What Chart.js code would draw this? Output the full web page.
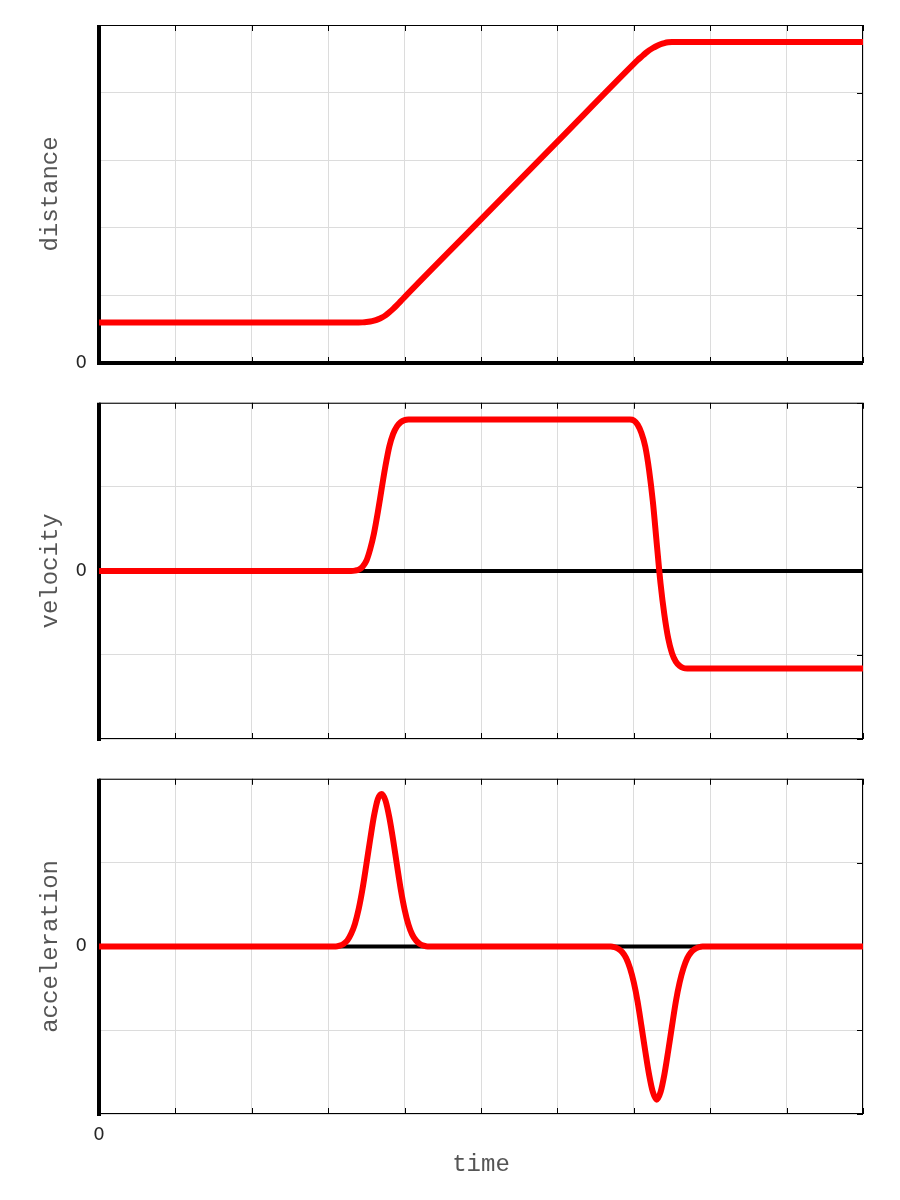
<!DOCTYPE html>
<html>
<head>
<meta charset="utf-8">
<script src="https://cdn.jsdelivr.net/npm/chart.js@4.4.1/dist/chart.umd.min.js"></script>
<style>
  body { margin: 0; background: #fff; }
  #wrap { position: relative; width: 900px; height: 1200px; }
  canvas { position: absolute; left: 0; }
</style>
</head>
<body>
<div id="wrap">
  <canvas id="cDist" width="900" height="390" style="top:0px"></canvas>
  <canvas id="cVel" width="900" height="385" style="top:380px"></canvas>
  <canvas id="cAcc" width="900" height="444" style="top:756px"></canvas>
</div>
<script>
// data (time 0..10)
const distTime = [0, 3.4, 3.45, 3.5, 3.55, 3.6, 3.65, 3.7, 3.75, 3.8, 3.85, 3.9, 3.95, 4.0, 5.0, 6.0, 7.0, 7.05, 7.1, 7.15, 7.2, 7.25, 7.3, 7.35, 7.4, 7.45, 7.5, 10];
const distValue = [0.6, 0.6, 0.601, 0.605, 0.613, 0.626, 0.645, 0.67, 0.705, 0.75, 0.8, 0.855, 0.915, 0.975, 2.125, 3.275, 4.425, 4.48, 4.53, 4.58, 4.625, 4.66, 4.69, 4.715, 4.733, 4.745, 4.75, 4.75];

const velTime = [0, 3.3, 3.35, 3.4, 3.45, 3.5, 3.55, 3.6, 3.65, 3.7, 3.75, 3.8, 3.85, 3.9, 3.95, 4.0, 4.05,
  6.95, 7.0, 7.05, 7.1, 7.15, 7.2, 7.25, 7.3, 7.35, 7.4, 7.45, 7.5, 7.55, 7.6, 7.65, 7.7, 10];
const velValue = [0, 0, 0.003, 0.015, 0.05, 0.12, 0.26, 0.45, 0.7, 0.98, 1.25, 1.48, 1.63, 1.72, 1.77, 1.795, 1.8,
  1.8, 1.79, 1.74, 1.64, 1.48, 1.2, 0.82, 0.33, -0.15, -0.52, -0.8, -0.98, -1.08, -1.13, -1.155, -1.16, -1.16];

const accTime = [0, 3.1, 3.15, 3.2, 3.25, 3.3, 3.35, 3.4, 3.45, 3.5, 3.55, 3.6, 3.65, 3.7, 3.75, 3.8, 3.85, 3.9, 3.95, 4.0, 4.05, 4.1, 4.15, 4.2, 4.25, 4.3,
  6.7, 6.75, 6.8, 6.85, 6.9, 6.95, 7.0, 7.05, 7.1, 7.15, 7.2, 7.25, 7.3, 7.35, 7.4, 7.45, 7.5, 7.55, 7.6, 7.65, 7.7, 7.75, 7.8, 7.85, 7.9, 10];
const accValue = [0, 0, 0.01, 0.03, 0.07, 0.15, 0.27, 0.45, 0.69, 0.98, 1.28, 1.56, 1.76, 1.82, 1.74, 1.54, 1.27, 0.97, 0.68, 0.44, 0.26, 0.14, 0.07, 0.03, 0.01, 0,
  0, -0.01, -0.03, -0.07, -0.14, -0.26, -0.43, -0.66, -0.95, -1.25, -1.53, -1.74, -1.83, -1.74, -1.53, -1.25, -0.95, -0.66, -0.43, -0.26, -0.14, -0.07, -0.03, -0.01, 0, 0];

const xRange = [0, 10];
const distRange = [0, 5];
const velRange = [-2, 2];
const accRange = [-2, 2];
const shownTick = 0; // only the zero tick carries a label

Chart.defaults.color = '#262626';

// box, inward ticks, thick left axis and zero line (drawn under the red curve)
const frame = {
  id: 'frame',
  beforeDatasetsDraw(chart) {
    const { ctx, chartArea: a, scales: { x, y } } = chart;
    ctx.save();
    ctx.strokeStyle = '#000';
    ctx.lineWidth = 1;
    ctx.strokeRect(a.left + 0.5, a.top + 0.5, a.right - a.left - 1, a.bottom - a.top - 1);

    ctx.beginPath();
    x.ticks.forEach(t => {
      const px = Math.round(x.getPixelForValue(t.value)) + 0.5;
      ctx.moveTo(px, a.top); ctx.lineTo(px, a.top + 6);
      ctx.moveTo(px, a.bottom); ctx.lineTo(px, a.bottom - 6);
    });
    y.ticks.forEach(t => {
      const py = Math.round(y.getPixelForValue(t.value)) + 0.5;
      ctx.moveTo(a.right, py); ctx.lineTo(a.right - 6, py);
    });
    ctx.stroke();

    ctx.lineWidth = 4;
    ctx.beginPath();
    const y0 = y.getPixelForValue(0);
    ctx.moveTo(a.left, y0); ctx.lineTo(a.right, y0);
    const x0 = x.getPixelForValue(0);
    ctx.moveTo(x0, a.top); ctx.lineTo(x0, a.bottom + 2);
    ctx.stroke();
    ctx.restore();
  }
};

function makeChart(id, times, values, yRange, yTitle, xHeight, topPad, showX) {
  const points = times.map((t, i) => ({ x: t, y: values[i] }));
  return new Chart(document.getElementById(id), {
    type: 'line',
    data: {
      datasets: [{
        data: points,
        borderColor: '#ff0000',
        borderWidth: 6,
        pointRadius: 0,
        cubicInterpolationMode: 'monotone',
        fill: false
      }]
    },
    options: {
      responsive: false,
      animation: false,
      layout: { padding: { top: topPad, right: 37, left: 0, bottom: 0 } },
      plugins: { legend: { display: false }, tooltip: { enabled: false } },
      scales: {
        x: {
          type: 'linear',
          min: xRange[0], max: xRange[1],
          grid: { color: '#dcdcdc', drawTicks: false },
          border: { display: false },
          ticks: {
            stepSize: 1,
            padding: 11,
            maxRotation: 0,
            font: { family: 'DejaVu Sans', size: 18 },
            callback: v => (showX && v === shownTick) ? String(v) : ''
          },
          title: {
            display: showX,
            text: 'time',
            color: '#555',
            font: { family: 'Liberation Mono', size: 24 },
            padding: { top: 0, bottom: 21 }
          },
          afterFit: s => { s.height = xHeight; }
        },
        y: {
          min: yRange[0], max: yRange[1],
          grid: { color: '#dcdcdc', drawTicks: false },
          border: { display: false },
          ticks: {
            stepSize: 1,
            padding: 12,
            font: { family: 'DejaVu Sans', size: 18 },
            callback: v => v === shownTick ? String(v) : ''
          },
          title: {
            display: true,
            text: yTitle,
            color: '#555',
            font: { family: 'Liberation Mono', size: 24 },
            padding: { top: 36, bottom: 0 }
          },
          afterFit: s => { s.width = 99; }
        }
      }
    },
    plugins: [frame]
  });
}

makeChart('cDist', distTime, distValue, distRange, 'distance', 27, 25, false);
makeChart('cVel', velTime, velValue, velRange, 'velocity', 26, 22, false);
makeChart('cAcc', accTime, accValue, accRange, 'acceleration', 86, 22, true);
</script>
</body>
</html>
